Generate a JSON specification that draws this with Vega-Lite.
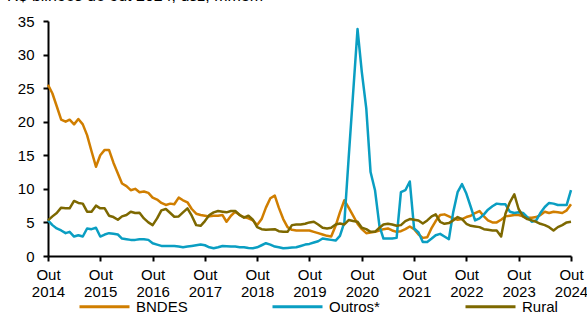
{
  "$schema": "https://vega.github.io/schema/vega-lite/v6.json",
  "width": 523,
  "height": 235,
  "autosize": "none",
  "padding": {"left": 48, "top": 21, "right": 16, "bottom": 69},
  "background": "white",
  "config": {"view": {"stroke": null}, "font": "Liberation Sans"},
  "title": {"text": "R$ bilhões de out 2024, dsz, mm3m", "anchor": "start", "frame": "group", "fontSize": 16, "fontWeight": "normal", "color": "black", "dx": -41, "dy": 9, "offset": 6, "baseline": "alphabetic"},
  "data": {"values": [
    {"d":"2014-10-01","BNDES":25.5,"Outros*":5.3,"Rural":5.3},
    {"d":"2014-11-01","BNDES":24.2,"Outros*":4.6,"Rural":5.9},
    {"d":"2014-12-01","BNDES":22.3,"Outros*":4.1,"Rural":6.4},
    {"d":"2015-01-01","BNDES":20.3,"Outros*":3.8,"Rural":7.2},
    {"d":"2015-02-01","BNDES":20.0,"Outros*":3.4,"Rural":7.1},
    {"d":"2015-03-01","BNDES":20.3,"Outros*":3.6,"Rural":7.1},
    {"d":"2015-04-01","BNDES":19.6,"Outros*":2.9,"Rural":8.2},
    {"d":"2015-05-01","BNDES":20.4,"Outros*":3.1,"Rural":7.9},
    {"d":"2015-06-01","BNDES":19.6,"Outros*":2.9,"Rural":7.8},
    {"d":"2015-07-01","BNDES":18.0,"Outros*":4.1,"Rural":6.6},
    {"d":"2015-08-01","BNDES":15.6,"Outros*":4.0,"Rural":6.6},
    {"d":"2015-09-01","BNDES":13.3,"Outros*":4.2,"Rural":7.5},
    {"d":"2015-10-01","BNDES":15.0,"Outros*":2.9,"Rural":7.1},
    {"d":"2015-11-01","BNDES":15.8,"Outros*":3.2,"Rural":7.1},
    {"d":"2015-12-01","BNDES":15.8,"Outros*":3.4,"Rural":6.0},
    {"d":"2016-01-01","BNDES":13.9,"Outros*":3.3,"Rural":5.8},
    {"d":"2016-02-01","BNDES":12.3,"Outros*":3.2,"Rural":5.4},
    {"d":"2016-03-01","BNDES":10.8,"Outros*":2.6,"Rural":5.9},
    {"d":"2016-04-01","BNDES":10.4,"Outros*":2.5,"Rural":6.1},
    {"d":"2016-05-01","BNDES":9.8,"Outros*":2.4,"Rural":6.6},
    {"d":"2016-06-01","BNDES":10.0,"Outros*":2.4,"Rural":6.4},
    {"d":"2016-07-01","BNDES":9.5,"Outros*":2.5,"Rural":6.45},
    {"d":"2016-08-01","BNDES":9.6,"Outros*":2.5,"Rural":5.6},
    {"d":"2016-09-01","BNDES":9.4,"Outros*":2.4,"Rural":5.0},
    {"d":"2016-10-01","BNDES":8.7,"Outros*":1.9,"Rural":4.6},
    {"d":"2016-11-01","BNDES":8.4,"Outros*":1.7,"Rural":5.6},
    {"d":"2016-12-01","BNDES":7.9,"Outros*":1.5,"Rural":6.8},
    {"d":"2017-01-01","BNDES":7.6,"Outros*":1.5,"Rural":7.0},
    {"d":"2017-02-01","BNDES":7.8,"Outros*":1.5,"Rural":6.4},
    {"d":"2017-03-01","BNDES":7.7,"Outros*":1.5,"Rural":5.85},
    {"d":"2017-04-01","BNDES":8.7,"Outros*":1.4,"Rural":5.9},
    {"d":"2017-05-01","BNDES":8.3,"Outros*":1.3,"Rural":6.5},
    {"d":"2017-06-01","BNDES":8.0,"Outros*":1.4,"Rural":7.1},
    {"d":"2017-07-01","BNDES":7.0,"Outros*":1.5,"Rural":6.0},
    {"d":"2017-08-01","BNDES":6.3,"Outros*":1.6,"Rural":4.6},
    {"d":"2017-09-01","BNDES":6.1,"Outros*":1.7,"Rural":4.5},
    {"d":"2017-10-01","BNDES":6.0,"Outros*":1.6,"Rural":5.2},
    {"d":"2017-11-01","BNDES":5.9,"Outros*":1.3,"Rural":6.1},
    {"d":"2017-12-01","BNDES":6.0,"Outros*":1.15,"Rural":6.5},
    {"d":"2018-01-01","BNDES":6.0,"Outros*":1.3,"Rural":6.7},
    {"d":"2018-02-01","BNDES":6.1,"Outros*":1.5,"Rural":6.6},
    {"d":"2018-03-01","BNDES":5.1,"Outros*":1.45,"Rural":6.5},
    {"d":"2018-04-01","BNDES":6.0,"Outros*":1.4,"Rural":6.7},
    {"d":"2018-05-01","BNDES":6.6,"Outros*":1.4,"Rural":6.7},
    {"d":"2018-06-01","BNDES":6.1,"Outros*":1.3,"Rural":6.1},
    {"d":"2018-07-01","BNDES":5.8,"Outros*":1.3,"Rural":5.7},
    {"d":"2018-08-01","BNDES":5.6,"Outros*":1.2,"Rural":6.0},
    {"d":"2018-09-01","BNDES":5.3,"Outros*":1.15,"Rural":5.4},
    {"d":"2018-10-01","BNDES":4.6,"Outros*":1.3,"Rural":4.3},
    {"d":"2018-11-01","BNDES":5.5,"Outros*":1.6,"Rural":4.0},
    {"d":"2018-12-01","BNDES":7.2,"Outros*":1.9,"Rural":3.9},
    {"d":"2019-01-01","BNDES":8.6,"Outros*":1.7,"Rural":3.95},
    {"d":"2019-02-01","BNDES":9.0,"Outros*":1.4,"Rural":4.0},
    {"d":"2019-03-01","BNDES":7.2,"Outros*":1.3,"Rural":3.7},
    {"d":"2019-04-01","BNDES":5.5,"Outros*":1.15,"Rural":3.6},
    {"d":"2019-05-01","BNDES":4.3,"Outros*":1.2,"Rural":3.6},
    {"d":"2019-06-01","BNDES":3.9,"Outros*":1.25,"Rural":4.6},
    {"d":"2019-07-01","BNDES":3.8,"Outros*":1.3,"Rural":4.7},
    {"d":"2019-08-01","BNDES":3.8,"Outros*":1.5,"Rural":4.7},
    {"d":"2019-09-01","BNDES":3.8,"Outros*":1.7,"Rural":4.8},
    {"d":"2019-10-01","BNDES":3.8,"Outros*":1.8,"Rural":5.0},
    {"d":"2019-11-01","BNDES":3.6,"Outros*":2.0,"Rural":5.1},
    {"d":"2019-12-01","BNDES":3.4,"Outros*":2.2,"Rural":4.7},
    {"d":"2020-01-01","BNDES":3.2,"Outros*":2.6,"Rural":4.2},
    {"d":"2020-02-01","BNDES":3.0,"Outros*":2.5,"Rural":4.1},
    {"d":"2020-03-01","BNDES":2.9,"Outros*":2.4,"Rural":4.2},
    {"d":"2020-04-01","BNDES":4.5,"Outros*":2.3,"Rural":4.7},
    {"d":"2020-05-01","BNDES":6.5,"Outros*":3.0,"Rural":4.85},
    {"d":"2020-06-01","BNDES":8.3,"Outros*":5.0,"Rural":4.7},
    {"d":"2020-07-01","BNDES":7.2,"Outros*":14.6,"Rural":5.35},
    {"d":"2020-08-01","BNDES":6.0,"Outros*":24.2,"Rural":5.2},
    {"d":"2020-09-01","BNDES":4.8,"Outros*":33.8,"Rural":5.1},
    {"d":"2020-10-01","BNDES":4.0,"Outros*":27.4,"Rural":4.2},
    {"d":"2020-11-01","BNDES":3.4,"Outros*":22.0,"Rural":4.0},
    {"d":"2020-12-01","BNDES":3.5,"Outros*":12.5,"Rural":3.6},
    {"d":"2021-01-01","BNDES":3.6,"Outros*":9.8,"Rural":3.6},
    {"d":"2021-02-01","BNDES":3.8,"Outros*":4.5,"Rural":4.2},
    {"d":"2021-03-01","BNDES":4.0,"Outros*":2.6,"Rural":4.7},
    {"d":"2021-04-01","BNDES":4.1,"Outros*":2.6,"Rural":4.8},
    {"d":"2021-05-01","BNDES":3.8,"Outros*":2.6,"Rural":4.7},
    {"d":"2021-06-01","BNDES":3.6,"Outros*":2.7,"Rural":4.5},
    {"d":"2021-07-01","BNDES":3.7,"Outros*":9.5,"Rural":4.6},
    {"d":"2021-08-01","BNDES":4.0,"Outros*":9.8,"Rural":5.2},
    {"d":"2021-09-01","BNDES":4.4,"Outros*":11.1,"Rural":5.5},
    {"d":"2021-10-01","BNDES":4.0,"Outros*":4.1,"Rural":5.4},
    {"d":"2021-11-01","BNDES":3.2,"Outros*":3.5,"Rural":5.3},
    {"d":"2021-12-01","BNDES":2.7,"Outros*":2.1,"Rural":4.85},
    {"d":"2022-01-01","BNDES":2.8,"Outros*":2.1,"Rural":5.3},
    {"d":"2022-02-01","BNDES":4.2,"Outros*":2.6,"Rural":5.9},
    {"d":"2022-03-01","BNDES":5.2,"Outros*":3.1,"Rural":6.2},
    {"d":"2022-04-01","BNDES":6.1,"Outros*":3.3,"Rural":5.1},
    {"d":"2022-05-01","BNDES":6.2,"Outros*":2.9,"Rural":4.8},
    {"d":"2022-06-01","BNDES":5.9,"Outros*":2.5,"Rural":4.9},
    {"d":"2022-07-01","BNDES":5.6,"Outros*":6.5,"Rural":5.3},
    {"d":"2022-08-01","BNDES":5.4,"Outros*":9.5,"Rural":5.8},
    {"d":"2022-09-01","BNDES":5.5,"Outros*":10.7,"Rural":5.5},
    {"d":"2022-10-01","BNDES":5.8,"Outros*":9.3,"Rural":4.8},
    {"d":"2022-11-01","BNDES":6.0,"Outros*":7.3,"Rural":4.5},
    {"d":"2022-12-01","BNDES":6.4,"Outros*":5.3,"Rural":4.4},
    {"d":"2023-01-01","BNDES":6.7,"Outros*":5.6,"Rural":4.3},
    {"d":"2023-02-01","BNDES":5.9,"Outros*":6.2,"Rural":4.0},
    {"d":"2023-03-01","BNDES":5.3,"Outros*":6.9,"Rural":3.9},
    {"d":"2023-04-01","BNDES":5.0,"Outros*":7.4,"Rural":3.8},
    {"d":"2023-05-01","BNDES":5.0,"Outros*":7.8,"Rural":3.8},
    {"d":"2023-06-01","BNDES":5.4,"Outros*":7.7,"Rural":2.9},
    {"d":"2023-07-01","BNDES":5.9,"Outros*":7.7,"Rural":6.3},
    {"d":"2023-08-01","BNDES":6.0,"Outros*":6.6,"Rural":8.0},
    {"d":"2023-09-01","BNDES":6.1,"Outros*":6.4,"Rural":9.2},
    {"d":"2023-10-01","BNDES":6.1,"Outros*":6.5,"Rural":7.0},
    {"d":"2023-11-01","BNDES":5.9,"Outros*":6.4,"Rural":5.9},
    {"d":"2023-12-01","BNDES":5.7,"Outros*":5.8,"Rural":5.5},
    {"d":"2024-01-01","BNDES":5.7,"Outros*":5.1,"Rural":5.3},
    {"d":"2024-02-01","BNDES":5.8,"Outros*":5.3,"Rural":5.1},
    {"d":"2024-03-01","BNDES":6.1,"Outros*":6.4,"Rural":4.8},
    {"d":"2024-04-01","BNDES":6.6,"Outros*":7.3,"Rural":4.6},
    {"d":"2024-05-01","BNDES":6.4,"Outros*":7.9,"Rural":4.3},
    {"d":"2024-06-01","BNDES":6.6,"Outros*":7.8,"Rural":3.8},
    {"d":"2024-07-01","BNDES":6.5,"Outros*":7.6,"Rural":4.3},
    {"d":"2024-08-01","BNDES":6.4,"Outros*":7.6,"Rural":4.6},
    {"d":"2024-09-01","BNDES":6.8,"Outros*":7.6,"Rural":5.0},
    {"d":"2024-10-01","BNDES":7.7,"Outros*":9.8,"Rural":5.1}
  ]},
  "transform": [{"fold": ["BNDES", "Outros*", "Rural"], "as": ["serie", "valor"]}],
  "mark": {"type": "line", "strokeWidth": 2.5, "strokeJoin": "round"},
  "encoding": {
    "x": {
      "field": "d", "type": "temporal",
      "scale": {"type": "utc", "domain": [{"year": 2014, "month": 10, "date": 1, "utc": true}, {"year": 2024, "month": 10, "date": 1, "utc": true}]},
      "axis": {
        "title": null,
        "grid": false,
        "values": [
          {"year": 2014, "month": 10, "date": 1, "utc": true},
          {"year": 2015, "month": 10, "date": 1, "utc": true},
          {"year": 2016, "month": 10, "date": 1, "utc": true},
          {"year": 2017, "month": 10, "date": 1, "utc": true},
          {"year": 2018, "month": 10, "date": 1, "utc": true},
          {"year": 2019, "month": 10, "date": 1, "utc": true},
          {"year": 2020, "month": 10, "date": 1, "utc": true},
          {"year": 2021, "month": 10, "date": 1, "utc": true},
          {"year": 2022, "month": 10, "date": 1, "utc": true},
          {"year": 2023, "month": 10, "date": 1, "utc": true},
          {"year": 2024, "month": 10, "date": 1, "utc": true}
        ],
        "labelExpr": "['Out', utcFormat(datum.value, '%Y')]",
        "labelFontSize": 15,
        "labelColor": "black",
        "labelLineHeight": 17,
        "labelPadding": 6,
        "labelAngle": 0,
        "labelAlign": "center",
        "labelOverlap": false,
        "labelFlush": false,
        "domainColor": "black",
        "domainWidth": 2,
        "tickColor": "black",
        "tickWidth": 2,
        "tickSize": 5
      }
    },
    "y": {
      "field": "valor", "type": "quantitative",
      "scale": {"domain": [0, 35], "nice": false, "zero": true},
      "axis": {
        "title": null,
        "grid": false,
        "values": [0, 5, 10, 15, 20, 25, 30, 35],
        "labelFontSize": 15,
        "labelColor": "black",
        "labelPadding": 9,
        "domainColor": "black",
        "domainWidth": 2,
        "tickColor": "black",
        "tickWidth": 2,
        "tickSize": 5
      }
    },
    "color": {
      "field": "serie", "type": "nominal",
      "scale": {"domain": ["BNDES", "Outros*", "Rural"], "range": ["#D07E00", "#0A9EC2", "#7D6800"]},
      "legend": {
        "title": null,
        "orient": "none",
        "direction": "horizontal",
        "legendX": 30,
        "legendY": 259,
        "symbolType": "stroke",
        "symbolSize": 2500,
        "symbolStrokeWidth": 3,
        "labelFontSize": 15,
        "labelColor": "black",
        "labelOffset": 5,
        "columnPadding": 78,
        "gridAlign": "all",
        "padding": 0
      }
    }
  }
}
